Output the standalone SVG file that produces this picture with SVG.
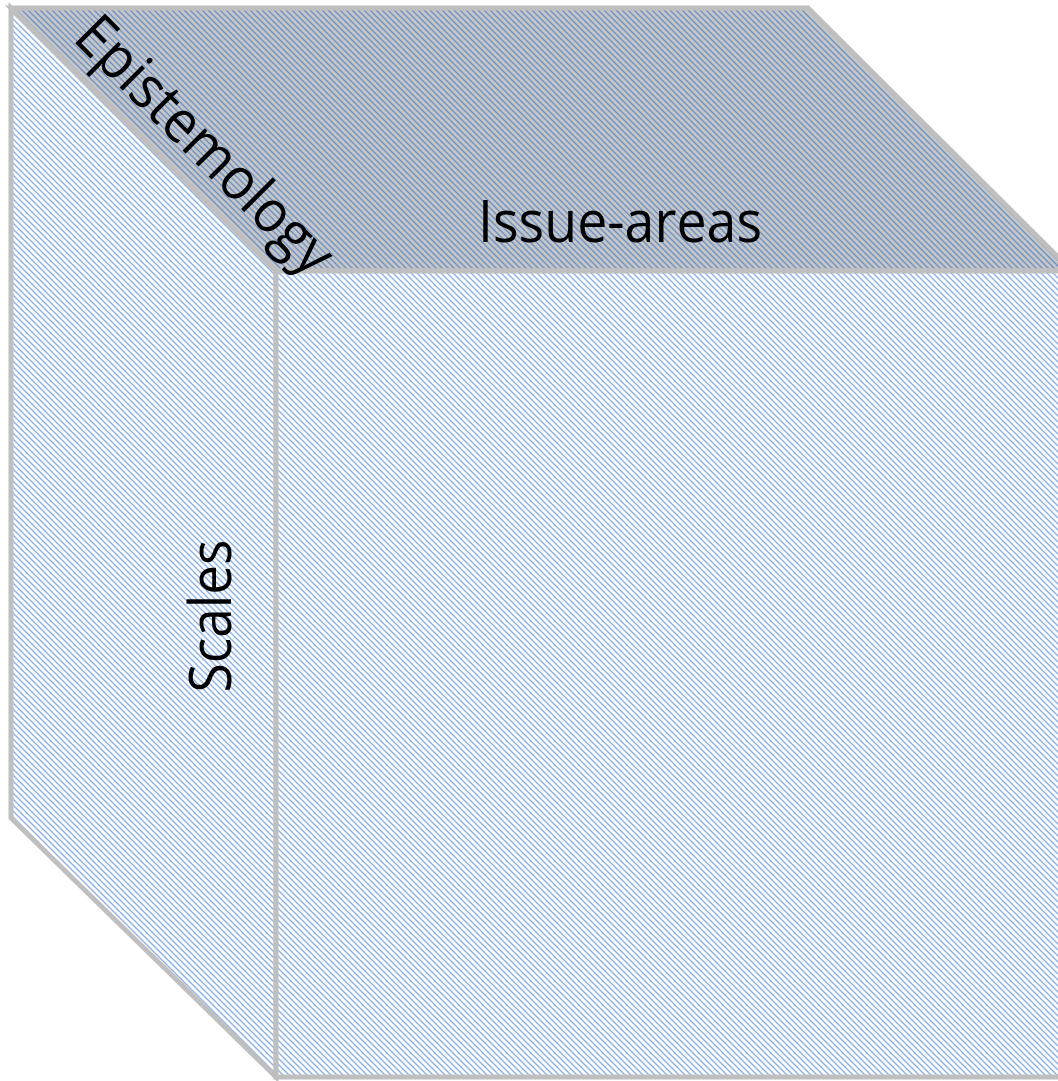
<svg xmlns="http://www.w3.org/2000/svg" width="1058" height="1081" viewBox="0 0 1058 1081">
  <defs>
    <pattern id="pLight" patternUnits="userSpaceOnUse" width="6" height="6">
      <rect width="6" height="6" fill="#ffffff"/>
      <path d="M-1,-1 L7,7 M5,-1 L7,1 M-1,5 L1,7" stroke="#93b5e2" stroke-width="1.5" fill="none"/>
    </pattern>
    <pattern id="pDark" patternUnits="userSpaceOnUse" width="6" height="6">
      <rect width="6" height="6" fill="#c6c6c6"/>
      <path d="M-1,-1 L7,7 M5,-1 L7,1 M-1,5 L1,7" stroke="#6f92c6" stroke-width="1.4" fill="none"/>
    </pattern>
  </defs>
  <style>
    .face { stroke: #bfbfbf; stroke-width: 5; stroke-linejoin: miter; }
    .lbl { font-family: "Open Sans", "Liberation Sans", sans-serif; font-size: 59px; fill: #000000; }
  </style>
  <g id="cube">
    <polygon id="left-face" class="face" fill="url(#pLight)" points="11,8 276,271 276,1077 11,818"/>
    <polygon id="top-face" class="face" fill="url(#pDark)" points="11,8 808,8 1072,271 276,271"/>
    <rect id="front-face" class="face" fill="url(#pLight)" x="276" y="271" width="796" height="806"/>
  </g>
  <g id="labels">
    <text id="issue-areas" class="lbl" x="620" y="242" text-anchor="middle" textLength="284" lengthAdjust="spacingAndGlyphs">Issue-areas</text>
    <text id="scales" class="lbl" transform="translate(231,616) rotate(-90)" x="0" y="0" text-anchor="middle" textLength="153" lengthAdjust="spacingAndGlyphs">Scales</text>
    <text id="epistemology" class="lbl" transform="translate(191,159) rotate(45)" x="0" y="0" text-anchor="middle" textLength="338" lengthAdjust="spacingAndGlyphs">Epistemology</text>
  </g>
</svg>
